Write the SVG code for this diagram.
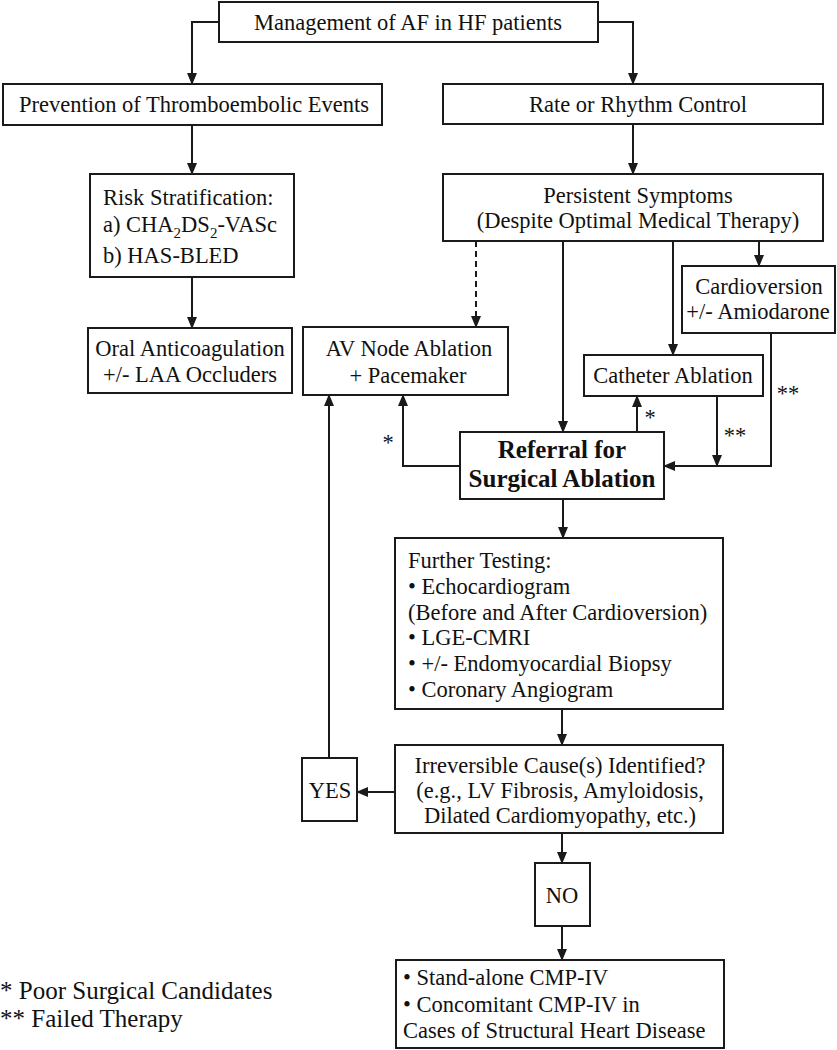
<svg xmlns="http://www.w3.org/2000/svg" width="837" height="1050" viewBox="0 0 837 1050">
<style>
.box{fill:#fff;stroke:#1a1a1a;stroke-width:2}
text{font-family:"Liberation Serif","Times New Roman",serif;font-size:22.5px;fill:#111}
.c{text-anchor:middle}
.b{font-weight:bold;font-size:25px}
.lg{font-size:25px}
.ln{fill:none;stroke:#1a1a1a;stroke-width:2}
.dash{stroke-dasharray:6 4}
</style>
<defs>
<marker id="ah" markerUnits="userSpaceOnUse" markerWidth="12" markerHeight="10" refX="11" refY="5" orient="auto">
<path d="M0,0 L12,5 L0,10 Z" fill="#1a1a1a"/>
</marker>
</defs>
<rect width="837" height="1050" fill="#fff"/>
<g id="connectors">
<path class="ln" d="M219,22 H192 V84" marker-end="url(#ah)"/>
<path class="ln" d="M598,22 H633 V84" marker-end="url(#ah)"/>
<path class="ln" d="M192,125 V174" marker-end="url(#ah)"/>
<path class="ln" d="M192,277 V328" marker-end="url(#ah)"/>
<path class="ln" d="M633,124 V174" marker-end="url(#ah)"/>
<path class="ln dash" d="M476,241 V327" marker-end="url(#ah)"/>
<path class="ln" d="M563,241 V432" marker-end="url(#ah)"/>
<path class="ln" d="M673,241 V355" marker-end="url(#ah)"/>
<path class="ln" d="M759,241 V266" marker-end="url(#ah)"/>
<path class="ln" d="M771,333 V466 H664" marker-end="url(#ah)"/>
<path class="ln" d="M717,396 V466" marker-end="url(#ah)"/>
<path class="ln" d="M637,432 V396" marker-end="url(#ah)"/>
<path class="ln" d="M460,466 H403 V395" marker-end="url(#ah)"/>
<path class="ln" d="M563,499 V538" marker-end="url(#ah)"/>
<path class="ln" d="M562,709 V745" marker-end="url(#ah)"/>
<path class="ln" d="M395,792 H357" marker-end="url(#ah)"/>
<path class="ln" d="M329,758 V395" marker-end="url(#ah)"/>
<path class="ln" d="M562,833 V863" marker-end="url(#ah)"/>
<path class="ln" d="M562,926 V960" marker-end="url(#ah)"/>
<text class="c" x="388" y="450">*</text>
<text class="c" x="650" y="425">*</text>
<text class="c" x="735" y="443">**</text>
<text class="c" x="788" y="401">**</text>
</g>
<g id="mgmt">
<rect class="box" x="219" y="2" width="379" height="40"/>
<text class="c" x="408" y="30">Management of AF in HF patients</text>
</g>
<g id="prevention">
<rect class="box" x="3" y="84" width="379" height="41"/>
<text class="c" x="194" y="112">Prevention of Thromboembolic Events</text>
</g>
<g id="rate">
<rect class="box" x="443" y="84" width="380" height="40"/>
<text class="c" x="638" y="112">Rate or Rhythm Control</text>
</g>
<g id="risk">
<rect class="box" x="90" y="174" width="204" height="103"/>
<text x="103" y="205">Risk Stratification:</text>
<text x="103" y="232">a) CHA<tspan font-size="15" dy="6">2</tspan><tspan dy="-6">DS</tspan><tspan font-size="15" dy="6">2</tspan><tspan dy="-6">-VASc</tspan></text>
<text x="103" y="263">b) HAS-BLED</text>
</g>
<g id="oral">
<rect class="box" x="88" y="328" width="204" height="65"/>
<text class="c" x="190" y="356">Oral Anticoagulation</text>
<text class="c" x="190" y="382">+/- LAA Occluders</text>
</g>
<g id="persistent">
<rect class="box" x="443" y="174" width="380" height="67"/>
<text class="c" x="638" y="203">Persistent Symptoms</text>
<text class="c" x="638" y="228">(Despite Optimal Medical Therapy)</text>
</g>
<g id="cardioversion">
<rect class="box" x="682" y="266" width="153" height="67"/>
<text class="c" x="759" y="294">Cardioversion</text>
<text class="c" x="758" y="319">+/- Amiodarone</text>
</g>
<g id="avnode">
<rect class="box" x="303" y="327" width="205" height="68"/>
<text class="c" x="409" y="356">AV Node Ablation</text>
<text class="c" x="408" y="383">+ Pacemaker</text>
</g>
<g id="catheter">
<rect class="box" x="584" y="355" width="179" height="41"/>
<text class="c" x="673" y="383">Catheter Ablation</text>
</g>
<g id="referral">
<rect class="box" x="460" y="432" width="204" height="67"/>
<text class="c b" x="562" y="458">Referral for</text>
<text class="c b" x="562" y="487">Surgical Ablation</text>
</g>
<g id="testing">
<rect class="box" x="395" y="538" width="328" height="171"/>
<text x="408" y="568">Further Testing:</text>
<text x="408" y="594">• Echocardiogram</text>
<text x="408" y="620">(Before and After Cardioversion)</text>
<text x="408" y="645">• LGE-CMRI</text>
<text x="408" y="671">• +/- Endomyocardial Biopsy</text>
<text x="408" y="697">• Coronary Angiogram</text>
</g>
<g id="irreversible">
<rect class="box" x="395" y="745" width="328" height="88"/>
<text class="c" x="560" y="773">Irreversible Cause(s) Identified?</text>
<text class="c" x="560" y="798">(e.g., LV Fibrosis, Amyloidosis,</text>
<text class="c" x="560" y="823">Dilated Cardiomyopathy, etc.)</text>
</g>
<g id="yes">
<rect class="box" x="302" y="758" width="55" height="63"/>
<text class="c" x="330" y="798">YES</text>
</g>
<g id="no">
<rect class="box" x="535" y="863" width="55" height="63"/>
<text class="c" x="562" y="903">NO</text>
</g>
<g id="cmp">
<rect class="box" x="396" y="960" width="328" height="88"/>
<text x="403" y="985">• Stand-alone CMP-IV</text>
<text x="403" y="1012">• Concomitant CMP-IV in</text>
<text x="403" y="1038">Cases of Structural Heart Disease</text>
</g>
<g id="legend">
<text class="lg" x="0" y="999">* Poor Surgical Candidates</text>
<text class="lg" x="0" y="1027">** Failed Therapy</text>
</g>
</svg>
